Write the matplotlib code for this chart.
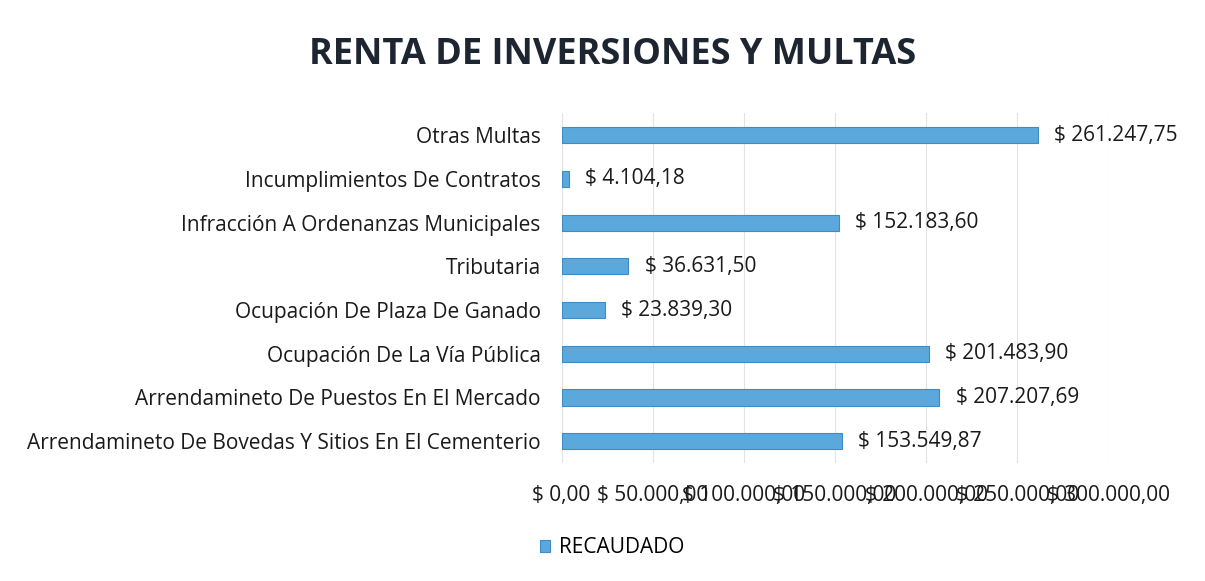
import numpy as np
import matplotlib.pyplot as plt
from matplotlib.ticker import FuncFormatter

plt.rcParams['font.family'] = ['Open Sans', 'DejaVu Sans']

categorias = [
    "Arrendamineto De Bovedas Y Sitios En El Cementerio",
    "Arrendamineto De Puestos En El Mercado",
    "Ocupación De La Vía Pública",
    "Ocupación De Plaza De Ganado",
    "Tributaria",
    "Infracción A Ordenanzas Municipales",
    "Incumplimientos De Contratos",
    "Otras Multas",
]
recaudado = [153549.87, 207207.69, 201483.90, 23839.30, 36631.50, 152183.60, 4104.18, 261247.75]
ticks_x = [0, 50000, 100000, 150000, 200000, 250000, 300000]


def pesos(v):
    s = f"{v:,.2f}"
    s = s.replace(",", "X").replace(".", ",").replace("X", ".")
    return "$ " + s


fig = plt.figure(figsize=(12.05, 5.81), dpi=100)
ax = fig.add_axes([0.466, 0.203, 0.454, 0.602])

y = np.arange(len(categorias))
ax.barh(y, recaudado, height=0.37, color="#5aa8dc", edgecolor="#3f8cc4",
        linewidth=0.8, label="RECAUDADO", zorder=3)

for yi, v in zip(y, recaudado):
    ax.text(v + 9000, yi, pesos(v), va="center", ha="left", fontsize=15,
            color="#1a1a1a")

ax.set_xlim(0, 300000)
ax.set_ylim(-0.5, len(categorias) - 0.5)
ax.set_yticks(y)
ax.set_yticklabels(categorias, fontsize=15, color="#1a1a1a")
ax.set_xticks(ticks_x)
ax.xaxis.set_major_formatter(FuncFormatter(lambda v, p: pesos(v)))
ax.tick_params(axis="x", labelsize=15, labelcolor="#1a1a1a", length=0, pad=16)
ax.tick_params(axis="y", length=0, pad=15)
ax.grid(axis="x", color="#e3e3e3", linewidth=0.8, zorder=0)
for s in ax.spines.values():
    s.set_visible(False)

fig.text(0.508, 0.905, "RENTA DE INVERSIONES Y MULTAS", ha="center", va="center",
         fontsize=26, fontweight="bold", color="#1c2530")

fig.legend(loc="center", bbox_to_anchor=(0.508, 0.057), frameon=False,
           fontsize=15, handlelength=0.5, handleheight=0.5, handletextpad=0.4)

fig.savefig("out.png", dpi=100, facecolor="white")
